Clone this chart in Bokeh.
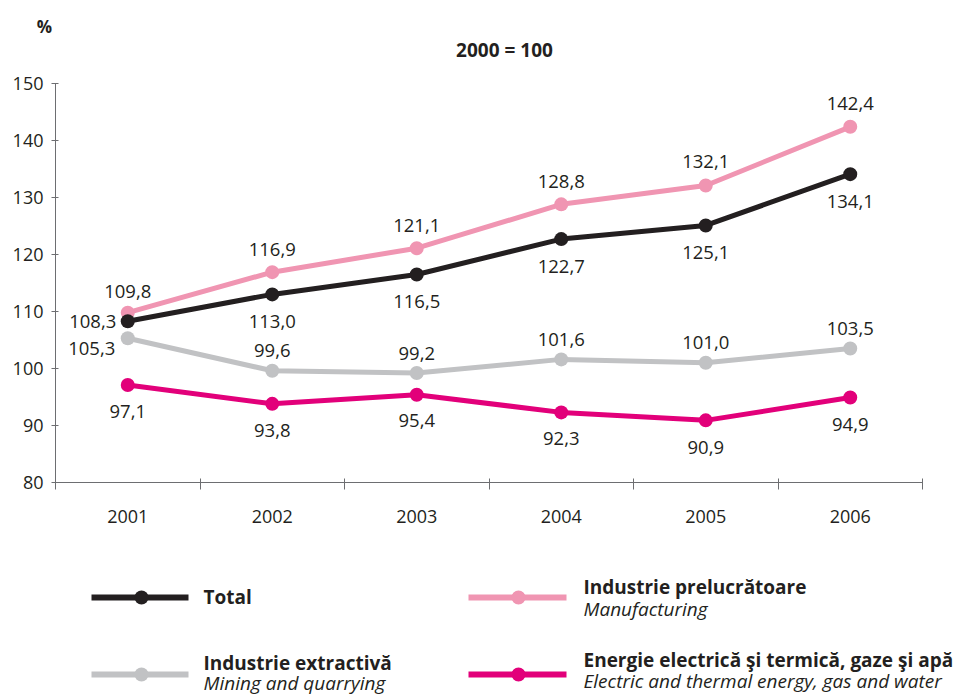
from bokeh.plotting import figure
from bokeh.models import (Range1d, LinearAxis, FixedTicker, ColumnDataSource, Label)
from bokeh.embed import file_html
from bokeh.resources import INLINE
from bokeh.core.properties import value

# ---------------- data ----------------
years = ["2001", "2002", "2003", "2004", "2005", "2006"]
total = [108.3, 113.0, 116.5, 122.7, 125.1, 134.1]
manufacturing = [109.8, 116.9, 121.1, 128.8, 132.1, 142.4]
mining = [105.3, 99.6, 99.2, 101.6, 101.0, 103.5]
energy = [97.1, 93.8, 95.4, 92.3, 90.9, 94.9]
y_ticks = [80, 90, 100, 110, 120, 130, 140, 150]

unit_label = "%"
base_label = "2000 = 100"
names_ro = ["Total", "Industrie prelucrătoare", "Industrie extractivă",
            "Energie electrică şi termică, gaze şi apă"]
names_en = ["", "Manufacturing", "Mining and quarrying",
            "Electric and thermal energy, gas and water"]

# ---------------- styles ----------------
FONT = "Open Sans"
TXT = "#231f20"
AXIS = "#6d6e71"
colors = {"total": "#231f20", "manu": "#f095b2", "mining": "#c1c2c4", "energy": "#e2007a"}

# label offsets (screen px) per series
offsets = {
    "total": ([-35, 0, 0, 0, 0, 0], [0, 27, 27, 27, 27, 27]),
    "manu": ([0, 0, 0, 0, 0, 0], [-21, -23, -23, -23, -24, -23]),
    "mining": ([-36, 0, 0, 0, 0, 0], [10, -20, -20, -20, -20, -20]),
    "energy": ([0, 0, 0, 0, 0, 0], [26, 27, 26, 26, 27, 27]),
}

W = 953
HT, H1, H2 = 70, 480, 146
BL, BR, BT = 55, 31, 13
n = len(years)
xpos = list(range(n))  # category slot index


def blank(height):
    f = figure(width=W, height=height, x_range=Range1d(0, W), y_range=Range1d(height, 0),
               output_backend="svg", toolbar_location=None,
               x_axis_location=None, y_axis_location=None, min_border=0)
    f.outline_line_color = None
    f.grid.visible = False
    return f


# ---------------- header ----------------
top = blank(HT)
top.add_layout(Label(x=44, y=26, text=unit_label, text_font=FONT, text_font_size="17px",
                     text_font_style="bold", text_color=TXT,
                     text_align="center", text_baseline="middle"))
top.add_layout(Label(x=504, y=49, text=base_label, text_font=FONT, text_font_size="19px",
                     text_font_style="bold", text_color=TXT,
                     text_align="center", text_baseline="middle"))

# ---------------- main chart ----------------
p = figure(width=W, height=H1,
           x_range=Range1d(-0.5, n - 0.5),
           y_range=Range1d(y_ticks[0], y_ticks[-1]),
           output_backend="svg", toolbar_location=None, x_axis_location=None,
           min_border_left=BL, min_border_right=BR, min_border_top=BT,
           min_border_bottom=H1 - BT - 399)
p.outline_line_color = None
p.grid.visible = False

ya = p.yaxis[0]
ya.ticker = FixedTicker(ticks=y_ticks, minor_ticks=[])
ya.axis_line_color = AXIS
ya.major_tick_line_color = AXIS
ya.major_tick_in = 3
ya.major_tick_out = 4
ya.minor_tick_line_color = None
ya.major_label_text_font = FONT
ya.major_label_text_font_size = "18px"
ya.major_label_text_color = TXT
ya.major_label_standoff = 8

xa = LinearAxis(ticker=FixedTicker(ticks=xpos,
                                   minor_ticks=[i - 0.5 for i in range(n + 1)]),
                major_label_overrides={i: y for i, y in zip(xpos, years)})
xa.axis_line_color = AXIS
xa.major_tick_line_color = None
xa.major_tick_in = 0
xa.major_tick_out = 0
xa.minor_tick_line_color = AXIS
xa.minor_tick_in = 4
xa.minor_tick_out = 7
xa.major_label_text_font = FONT
xa.major_label_text_font_size = "18px"
xa.major_label_text_color = TXT
xa.major_label_standoff = 20
p.add_layout(xa, "below")


def fmt(v):
    return f"{v:.1f}".replace(".", ",")


series = [("energy", energy), ("mining", mining), ("manu", manufacturing), ("total", total)]
for key, vals in series:
    src = ColumnDataSource(dict(x=xpos, y=vals))
    p.line("x", "y", source=src, line_color=colors[key], line_width=5, line_join="round")
    p.scatter("x", "y", source=src, size=14, fill_color=colors[key], line_color=None)

for key, vals in series:
    dx, dy = offsets[key]
    src = ColumnDataSource(dict(x=xpos, y=vals, lab=[fmt(v) for v in vals], dx=dx, dy=dy))
    p.text("x", "y", text="lab", source=src, x_offset="dx", y_offset="dy",
           text_font=value(FONT), text_font_size="18.5px", text_color=TXT,
           text_align="center", text_baseline="middle")

# ---------------- legend ----------------
lf = blank(H2)
leg_keys = ["total", "manu", "mining", "energy"]
# (line x0, line x1, marker x, text x, line y, bold y, italic y)
leg_pos = [
    (91, 188, 141, 203, 47, 46, None),
    (468, 566, 518, 583, 47, 36, 58),
    (91, 188, 141, 203, 124, 112, 132),
    (468, 566, 518, 583, 124, 109, 130),
]
for k, ro, en, pos in zip(leg_keys, names_ro, names_en, leg_pos):
    x0, x1, mx, tx, ly, by, iy = pos
    lf.segment(x0=[x0], y0=[ly], x1=[x1], y1=[ly], line_color=colors[k], line_width=6)
    lf.scatter(x=[mx], y=[ly], size=14, fill_color=colors[k], line_color=None)
    lf.add_layout(Label(x=tx, y=by, text=ro, text_font=FONT, text_font_size="19px",
                        text_font_style="bold", text_color=TXT, text_baseline="middle"))
    if en:
        lf.add_layout(Label(x=tx, y=iy, text=en, text_font=FONT, text_font_size="19px",
                            text_font_style="italic", text_color=TXT, text_baseline="middle"))

open("out.html", "w").write(file_html([top, p, lf], INLINE))
